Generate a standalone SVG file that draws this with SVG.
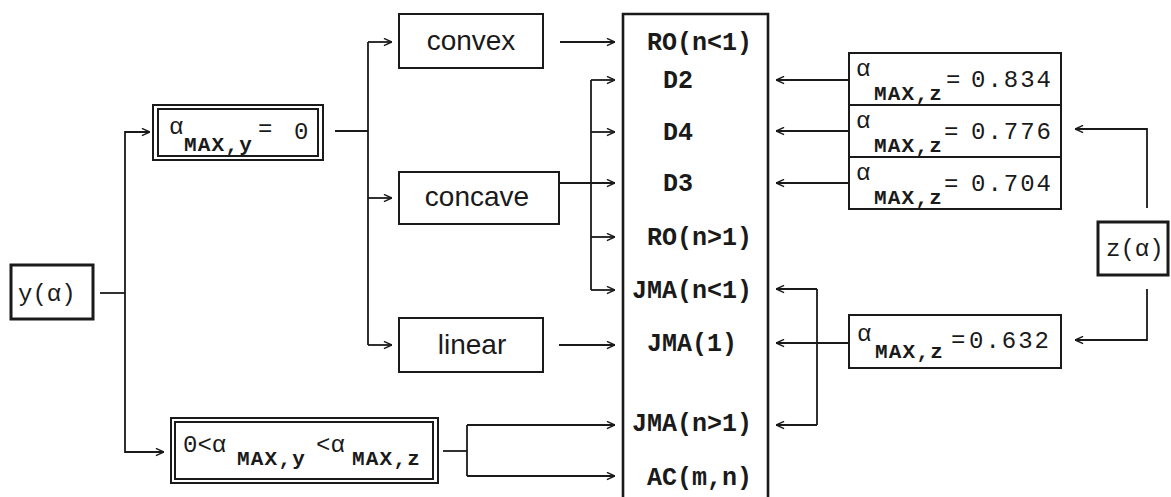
<svg xmlns="http://www.w3.org/2000/svg" width="1171" height="497" viewBox="0 0 1171 497">
<style>
.box{fill:#fff;stroke:#1a1a1a;stroke-width:2}
.thick{fill:#fff;stroke:#1a1a1a;stroke-width:3}
.ln{fill:none;stroke:#1a1a1a;stroke-width:1.8}
.sans{font-family:"Liberation Sans",Arial,sans-serif;font-size:28px;fill:#1a1a1a}
.mono{font-family:"Liberation Mono","Courier New",monospace;fill:#1a1a1a}
.c{font-size:25px;font-weight:bold}
.a{font-size:24px}
.sub{font-size:21px;font-weight:bold;letter-spacing:1.2px}
.num{font-size:24px;letter-spacing:2px}
</style>
<defs>
<marker id="arr" viewBox="0 0 10 10" refX="10" refY="5" markerWidth="9" markerHeight="9" markerUnits="userSpaceOnUse" orient="auto">
<path d="M1,1 L10,5 L1,9" fill="none" stroke="#1a1a1a" stroke-width="1.6"/>
</marker>
</defs>

<g id="connectors">
<!-- y(alpha) split -->
<path class="ln" d="M100,293 H125"/>
<path class="ln" d="M150,132 H125 V452 H164" marker-end="url(#arr)"/>
<path class="ln" d="M125,132 H150" marker-end="url(#arr)"/>
<!-- top box to shapes -->
<path class="ln" d="M335,131 H368"/>
<path class="ln" d="M368,42 V345"/>
<path class="ln" d="M368,42 H392" marker-end="url(#arr)"/>
<path class="ln" d="M368,198 H392" marker-end="url(#arr)"/>
<path class="ln" d="M368,345 H392" marker-end="url(#arr)"/>
<!-- convex / linear -->
<path class="ln" d="M560,42 H615" marker-end="url(#arr)"/>
<path class="ln" d="M559,345 H615" marker-end="url(#arr)"/>
<!-- concave -->
<path class="ln" d="M559,183 H615" marker-end="url(#arr)"/>
<path class="ln" d="M591,80 V290"/>
<path class="ln" d="M591,80 H615" marker-end="url(#arr)"/>
<path class="ln" d="M591,132 H615" marker-end="url(#arr)"/>
<path class="ln" d="M591,237 H615" marker-end="url(#arr)"/>
<path class="ln" d="M591,290 H615" marker-end="url(#arr)"/>
<!-- bottom box -->
<path class="ln" d="M443,451 H467"/>
<path class="ln" d="M467,425 V476"/>
<path class="ln" d="M467,425 H615" marker-end="url(#arr)"/>
<path class="ln" d="M467,476 H615" marker-end="url(#arr)"/>
<!-- right side -->
<path class="ln" d="M849,80 H776" marker-end="url(#arr)"/>
<path class="ln" d="M849,131 H776" marker-end="url(#arr)"/>
<path class="ln" d="M849,183 H776" marker-end="url(#arr)"/>
<path class="ln" d="M849,343 H776" marker-end="url(#arr)"/>
<path class="ln" d="M817,289 V425"/>
<path class="ln" d="M817,289 H776" marker-end="url(#arr)"/>
<path class="ln" d="M817,425 H776" marker-end="url(#arr)"/>
<!-- z(alpha) -->
<path class="ln" d="M1147,208 V129 H1075" marker-end="url(#arr)"/>
<path class="ln" d="M1147,289 V340 H1075" marker-end="url(#arr)"/>
</g>

<g id="y-alpha">
<rect class="thick" x="11" y="265" width="82" height="54"/>
<text class="mono a" x="18" y="301">y(α)</text>
</g>

<g id="amax-y-zero">
<rect class="box" x="153" y="105" width="170" height="55"/>
<rect class="box" x="158" y="109" width="160" height="47"/>
<text class="mono a" x="169" y="134">α</text>
<text class="mono sub" x="184" y="151">MAX,y</text>
<text class="mono a" x="258" y="136">=</text>
<text class="mono a" x="294" y="139">0</text>
</g>

<g id="amax-range">
<rect class="box" x="171" y="418" width="267" height="65"/>
<rect class="box" x="175" y="422" width="258" height="57"/>
<text class="mono a" x="183" y="452">0&lt;α</text>
<text class="mono sub" x="237" y="465">MAX,y</text>
<text class="mono a" x="316" y="452">&lt;α</text>
<text class="mono sub" x="352" y="465">MAX,z</text>
</g>

<g id="convex">
<rect class="box" x="399" y="14" width="144" height="54"/>
<text class="sans" x="471" y="50" text-anchor="middle">convex</text>
</g>

<g id="concave">
<rect class="box" x="399" y="172" width="160" height="52"/>
<text class="sans" x="477" y="206" text-anchor="middle">concave</text>
</g>

<g id="linear">
<rect class="box" x="399" y="318" width="144" height="54"/>
<text class="sans" x="472" y="354" text-anchor="middle">linear</text>
</g>

<g id="models">
<path d="M623,500 V14 H768 V500" fill="#fff" stroke="#1a1a1a" stroke-width="2.6"/>
<text class="mono c" x="647" y="50">RO(n&lt;1)</text>
<text class="mono c" x="663" y="88">D2</text>
<text class="mono c" x="663" y="140">D4</text>
<text class="mono c" x="663" y="191">D3</text>
<text class="mono c" x="647" y="245">RO(n&gt;1)</text>
<text class="mono c" x="632" y="298">JMA(n&lt;1)</text>
<text class="mono c" x="647" y="351">JMA(1)</text>
<text class="mono c" x="632" y="431">JMA(n&gt;1)</text>
<text class="mono c" x="647" y="485">AC(m,n)</text>
</g>

<g id="amax-z-0834">
<rect class="box" x="849" y="53" width="212" height="52"/>
<text class="mono a" x="856" y="76">α</text>
<text class="mono sub" x="874" y="100">MAX,z</text>
<text class="mono a" x="946" y="87">=</text>
<text class="mono num" x="971" y="87">0.834</text>
</g>

<g id="amax-z-0776">
<rect class="box" x="849" y="105" width="212" height="52"/>
<text class="mono a" x="856" y="128">α</text>
<text class="mono sub" x="874" y="152">MAX,z</text>
<text class="mono a" x="944" y="139">=</text>
<text class="mono num" x="971" y="139">0.776</text>
</g>

<g id="amax-z-0704">
<rect class="box" x="849" y="157" width="212" height="52"/>
<text class="mono a" x="856" y="180">α</text>
<text class="mono sub" x="874" y="204">MAX,z</text>
<text class="mono a" x="944" y="191">=</text>
<text class="mono num" x="971" y="191">0.704</text>
</g>

<g id="amax-z-0632">
<rect class="box" x="849" y="315" width="212" height="53"/>
<text class="mono a" x="857" y="341">α</text>
<text class="mono sub" x="875" y="358">MAX,z</text>
<text class="mono a" x="951" y="347">=</text>
<text class="mono num" x="969" y="348">0.632</text>
</g>

<g id="z-alpha">
<rect class="thick" x="1098" y="222" width="70" height="53"/>
<text class="mono a" x="1106" y="256">z(α)</text>
</g>
</svg>
